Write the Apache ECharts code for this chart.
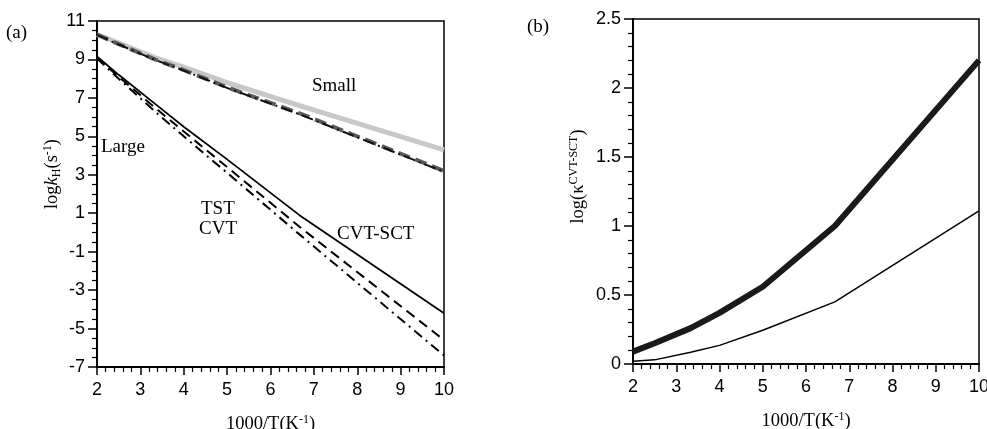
<!DOCTYPE html>
<html><head><meta charset="utf-8">
<script src="https://cdn.jsdelivr.net/npm/echarts@6/dist/echarts.min.js"></script>
<style>html,body{margin:0;padding:0;background:#fff}#c{width:987px;height:429px}</style>
</head><body><div id="c"></div>
<script>
// 1000/T values (T = 500,400,300,250,200,150,100 K)
const invT = [2, 2.5, 3.333, 4, 5, 6.667, 10];
// Panel (a): log kH
const smallCvtSct = [10.3, 9.85, 9.1, 8.6, 7.8, 6.6, 4.3];
const smallTst    = [10.3, 9.8, 9.0, 8.45, 7.55, 6.2, 3.2];
const smallCvt    = [10.28, 9.78, 8.98, 8.42, 7.52, 6.15, 3.15];
const largeCvtSct = [9.15, 8.2, 6.7, 5.5, 3.8, 0.9, -4.2];
const largeCvt    = [9.1, 8.1, 6.5, 5.25, 3.4, 0.3, -5.6];
const largeTst    = [9.05, 8.0, 6.3, 5.0, 3.1, -0.1, -6.4];
// Panel (b): log kappa
const kappaLarge  = [0.09, 0.15, 0.26, 0.37, 0.56, 1.0, 2.2];
const kappaSmall  = [0.02, 0.03, 0.085, 0.135, 0.245, 0.45, 1.11];
const xTicks = [2, 3, 4, 5, 6, 7, 8, 9, 10];
const yTicksA = [-7, -5, -3, -1, 1, 3, 5, 7, 9, 11];
const yTicksB = [0, 0.5, 1, 1.5, 2, 2.5];

const pts = ys => invT.map((x, i) => [x, ys[i]]);
const chart = echarts.init(document.getElementById('c'));
const lab = {fontFamily: 'Liberation Sans', fontSize: 18, color: '#000'};
const serif = {fontFamily: 'Liberation Serif', fontSize: 19, color: '#000'};
const nameFont = {fontFamily: 'Liberation Serif', fontSize: 18.5, color: '#000'};
function xAx(gi) {
  return {type: 'value', gridIndex: gi, min: xTicks[0], max: xTicks[xTicks.length-1], interval: 1,
    name: '1000/T(K{sup|-1})', nameLocation: 'middle', nameGap: 47,
    nameTextStyle: Object.assign({}, nameFont, {rich: {sup: {fontFamily: 'Liberation Serif', fontSize: 12, padding: [0,0,9,0]}}}),
    axisLine: {onZero: false, lineStyle: {color: '#000', width: 2}},
    axisTick: {inside: false, length: 8, lineStyle: {color: '#000', width: 1.5}},
    minorTick: {show: true, splitNumber: 5, length: 5, lineStyle: {color: '#000', width: 1.2}},
    splitLine: {show: false}, axisLabel: Object.assign({margin: 14}, lab)};
}
function yAx(gi, ticks, split, name, nameGap, pad) {
  return {type: 'value', gridIndex: gi, min: ticks[0], max: ticks[ticks.length-1], interval: ticks[1]-ticks[0],
    name: name, nameLocation: 'middle', nameGap: nameGap,
    nameTextStyle: Object.assign({}, nameFont, {padding: pad, rich: {
      i: {fontFamily: 'Liberation Serif', fontSize: 18.5, fontStyle: 'italic'},
      sub: {fontFamily: 'Liberation Serif', fontSize: 12, padding: [9,0,0,0]},
      sup: {fontFamily: 'Liberation Serif', fontSize: 12, padding: [0,0,9,0]}}}),
    axisLine: {onZero: false, lineStyle: {color: '#000', width: 2}},
    axisTick: {inside: false, length: 9, lineStyle: {color: '#000', width: 1.5}},
    minorTick: {show: true, splitNumber: split, length: 5, lineStyle: {color: '#000', width: 1.2}},
    splitLine: {show: false}, axisLabel: Object.assign({margin: 12}, lab)};
}
function ln(xi, yi, data, color, width, type, z) {
  return {type: 'line', xAxisIndex: xi, yAxisIndex: yi, data: pts(data), symbol: 'none', smooth: false, z: z || 2,
    lineStyle: {color: color, width: width, type: type || 'solid'}};
}
chart.setOption({
  animation: false,
  grid: [
    {left: 97, right: 543, top: 21, bottom: 62, show: true, borderColor: '#000', borderWidth: 1.5, containLabel: false, outerBoundsMode: 'none'},
    {left: 633, right: 8, top: 19, bottom: 65, show: true, borderColor: '#000', borderWidth: 1.5, containLabel: false, outerBoundsMode: 'none'}
  ],
  xAxis: [xAx(0), xAx(1)],
  yAxis: [
    yAx(0, yTicksA, 4, 'log{i|k}{sub|H}(s{sup|-1})', 34, [0,0,0,40]),
    yAx(1, yTicksB, 5, 'log(κ{sup|CVT-SCT})', 44, [0,0,0,30])
  ],
  series: [
    ln(0, 0, smallCvtSct, '#c8c8c8', 5, 'solid', 1),
    ln(0, 0, smallTst, '#5a5a5a', 4, [12, 6], 2),
    ln(0, 0, smallCvt, '#111', 2, [12, 4, 2, 4], 3),
    ln(0, 0, largeCvtSct, '#000', 1.8, 'solid', 3),
    ln(0, 0, largeCvt, '#000', 2, [10, 6], 3),
    ln(0, 0, largeTst, '#000', 2, [10, 5, 2, 5], 3),
    ln(1, 1, kappaLarge, '#1a1a1a', 6, 'solid', 3),
    ln(1, 1, kappaSmall, '#000', 1.5, 'solid', 3)
  ],
  graphic: [
    {type: 'text', left: 6, top: 24, style: Object.assign({text: '(a)'}, serif)},
    {type: 'text', left: 527, top: 18, style: Object.assign({text: '(b)'}, serif)},
    {type: 'text', left: 312, top: 77, style: Object.assign({text: 'Small'}, serif)},
    {type: 'text', left: 101, top: 138, style: Object.assign({text: 'Large'}, serif)},
    {type: 'text', left: 201, top: 200, style: Object.assign({text: 'TST'}, serif)},
    {type: 'text', left: 199, top: 220, style: Object.assign({text: 'CVT'}, serif)},
    {type: 'text', left: 337, top: 225, style: Object.assign({text: 'CVT-SCT'}, serif)}
  ]
});
</script></body></html>
